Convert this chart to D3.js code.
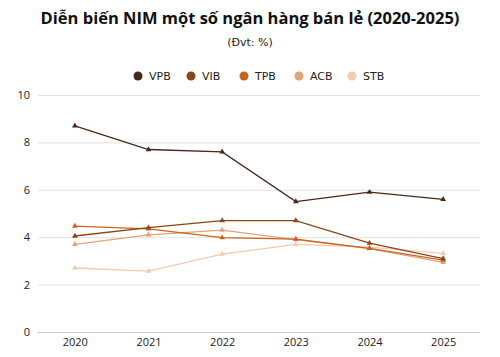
<!DOCTYPE html>
<html>
<head>
<meta charset="utf-8">
<script src="https://cdn.jsdelivr.net/npm/d3@7"></script>
<style>
  body { margin: 0; background: #fff; }
  svg { display: block; }
</style>
</head>
<body>
<svg id="chart" width="500" height="357"></svg>
<script>
// data
const years = ["2020", "2021", "2022", "2023", "2024", "2025"];
const banks = ["VPB", "VIB", "TPB", "ACB", "STB"];
const bankColors = ["#45291b", "#8a4519", "#c9641f", "#e2a27c", "#f0cbb3"];
const vpbValues = [8.7, 7.7, 7.6, 5.5, 5.9, 5.6];
const vibValues = [4.05, 4.4, 4.7, 4.7, 3.75, 3.1];
const tpbValues = [4.47, 4.35, 3.98, 3.92, 3.53, 3.03];
const acbValues = [3.7, 4.1, 4.3, 3.9, 3.52, 2.94];
const stbValues = [2.7, 2.57, 3.29, 3.7, 3.58, 3.32];
const yTicks = [0, 2, 4, 6, 8, 10];

const seriesValues = [vpbValues, vibValues, tpbValues, acbValues, stbValues];

let svg = d3.select("#chart");
let width = 500;
let plotLeft = 38, plotRight = 480, plotTop = 95, plotBottom = 332;
let fontMain = "'DejaVu Sans', Verdana, sans-serif";
let fontAxis = "'Open Sans', 'DejaVu Sans', sans-serif";

let xScale = d3.scalePoint()
    .domain(years)
    .range([plotLeft, plotRight])
    .padding(0.5);

let yScale = d3.scaleLinear()
    .domain([0, 10])
    .range([plotBottom, plotTop]);

let colorScale = d3.scaleOrdinal()
    .domain(banks)
    .range(bankColors);

// title
svg.append("text")
    .attr("x", width / 2)
    .attr("y", 24)
    .text("Diễn biến NIM một số ngân hàng bán lẻ (2020-2025)")
    .style("font-family", "'Open Sans', sans-serif")
    .style("font-weight", "bold")
    .style("text-anchor", "middle")
    .style("font-size", 16.5)
    .style("fill", "#111");

svg.append("text")
    .attr("x", width / 2)
    .attr("y", 46)
    .text("(Đvt: %)")
    .style("font-family", fontMain)
    .style("text-anchor", "middle")
    .style("font-size", 11)
    .style("fill", "#222");

// legend
let legendX = [138, 191, 244, 299, 352];
let legend = svg.selectAll(".legendItem")
    .data(banks)
    .enter()
    .append("g")
    .attr("class", "legendItem")
    .attr("transform", function(d, i) {
        return "translate(" + legendX[i] + ",76)";
    });
legend.append("circle")
    .attr("r", 4.5)
    .attr("fill", d => colorScale(d));
legend.append("text")
    .attr("x", 11)
    .attr("y", 4)
    .text(d => d)
    .style("font-family", fontMain)
    .style("font-size", 11)
    .style("fill", "#222");

// grid lines + y labels
let yAxis = svg.append("g")
    .attr("class", "y_axis")
    .attr("transform", "translate(" + plotLeft + ",0)")
    .call(d3.axisLeft(yScale).tickValues(yTicks).tickSize(-(plotRight - plotLeft)).tickPadding(8));
yAxis.select(".domain").remove();
yAxis.selectAll("line")
    .attr("stroke", function(d) { return d === 0 ? "#c8c8c8" : "#e2e2e2"; })
    .attr("stroke-width", 1);
yAxis.selectAll("text")
    .style("font-family", fontAxis)
    .style("font-size", 11)
    .style("fill", "#222");

// x labels
let xAxis = svg.append("g")
    .attr("class", "x_axis")
    .attr("transform", "translate(0," + plotBottom + ")")
    .call(d3.axisBottom(xScale).tickSize(0).tickPadding(6));
xAxis.select(".domain").remove();
xAxis.selectAll("text")
    .style("font-family", fontAxis)
    .style("font-size", 11)
    .style("fill", "#222");

// lines, drawn light first so the dark ones sit on top
let line = d3.line()
    .x((d, i) => xScale(years[i]))
    .y(d => yScale(d));

let tri = d3.symbol().type(d3.symbolTriangle).size(14);

for (let s = banks.length - 1; s >= 0; s--) {
    let color = colorScale(banks[s]);
    svg.append("path")
        .datum(seriesValues[s])
        .attr("d", line)
        .attr("fill", "none")
        .attr("stroke", color)
        .attr("stroke-width", 1.3);
    svg.selectAll(".marker" + s)
        .data(seriesValues[s])
        .enter()
        .append("path")
        .attr("d", tri)
        .attr("transform", (d, i) => "translate(" + xScale(years[i]) + "," + yScale(d) + ")")
        .attr("fill", color);
}
</script>
</body>
</html>
